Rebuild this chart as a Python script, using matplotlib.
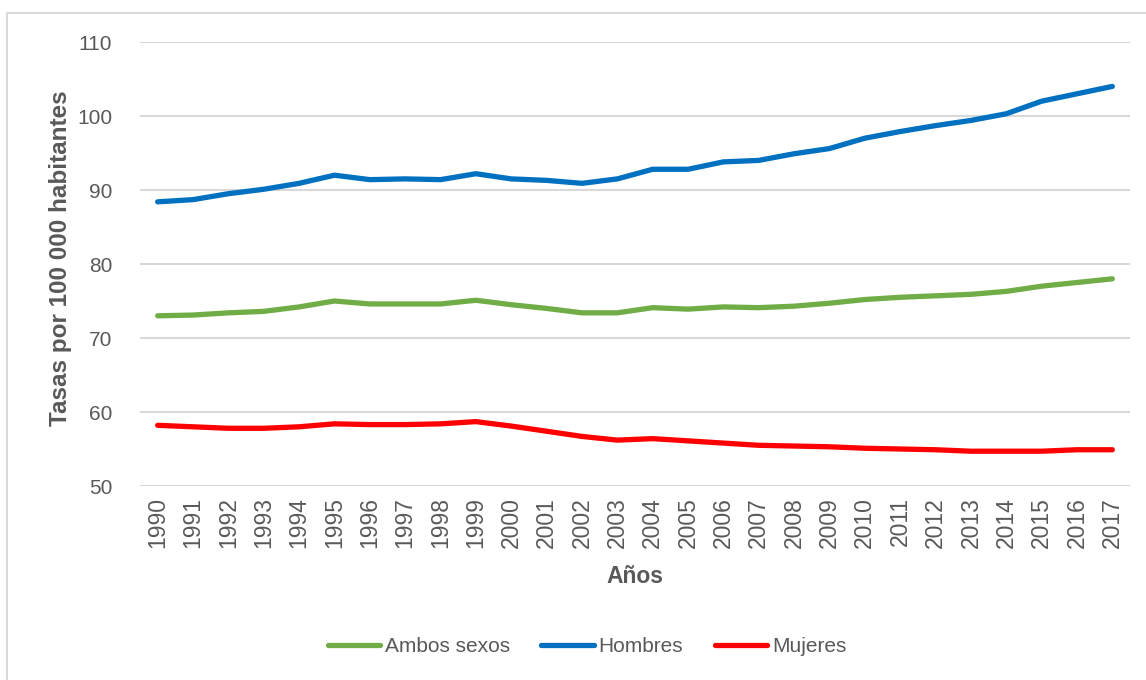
import matplotlib.pyplot as plt
from matplotlib.patches import Rectangle

# Tasas por 100 000 habitantes, 1990-2017
anios = list(range(1990, 2018))
ambos = [73.0, 73.1, 73.4, 73.6, 74.2, 75.0, 74.6, 74.6, 74.6, 75.1,
         74.5, 74.0, 73.4, 73.4, 74.1, 73.9, 74.2, 74.1, 74.3, 74.7,
         75.2, 75.5, 75.7, 75.9, 76.3, 77.0, 77.5, 78.0]
hombres = [88.4, 88.7, 89.5, 90.1, 90.9, 92.0, 91.4, 91.5, 91.4, 92.2,
           91.5, 91.3, 90.9, 91.5, 92.8, 92.8, 93.8, 94.0, 94.9, 95.6,
           97.0, 97.9, 98.7, 99.4, 100.3, 102.0, 103.0, 104.0]
mujeres = [58.2, 58.0, 57.8, 57.8, 58.0, 58.4, 58.3, 58.3, 58.4, 58.7,
           58.1, 57.4, 56.7, 56.2, 56.4, 56.1, 55.8, 55.5, 55.4, 55.3,
           55.1, 55.0, 54.9, 54.7, 54.7, 54.7, 54.9, 54.9]
yticks = [50, 60, 70, 80, 90, 100, 110]

plt.rcParams['font.family'] = ['Liberation Sans', 'DejaVu Sans']
gris = '#595959'

fig = plt.figure(figsize=(11.46, 6.8), dpi=100)
ax = fig.add_axes([140/1146, 1 - 486/680, 990/1146, 444/680])

# marco exterior del gráfico
fig.patches.append(Rectangle((7/1146, -0.1), 1.2, 1 - 13/680 + 0.1,
                             transform=fig.transFigure, fill=False,
                             edgecolor='#D9D9D9', linewidth=1.5))

lw = 3.8
ax.plot(anios, ambos, color='#70AD47', lw=lw, label='Ambos sexos', solid_capstyle='round')
ax.plot(anios, hombres, color='#0070C0', lw=lw, label='Hombres', solid_capstyle='round')
ax.plot(anios, mujeres, color='#FF0000', lw=lw, label='Mujeres', solid_capstyle='round')

ax.set_xlim(1989.5, 2017.5)
ax.set_ylim(50, 110)
ax.set_yticks(yticks)
ax.set_xticks(anios)
ax.set_xticklabels([str(a) for a in anios], rotation=90)
ax.grid(axis='y', color='#D9D9D9', linewidth=1.5)
ax.set_axisbelow(True)
for s in ax.spines.values():
    s.set_visible(False)
ax.tick_params(axis='both', length=0, labelsize=15, labelcolor=gris)
ax.tick_params(axis='x', labelsize=16.5, pad=8)
ax.tick_params(axis='y', pad=20)

ax.set_ylabel('Tasas por 100 000 habitantes', fontsize=17.5, fontweight='bold',
              color=gris)
ax.yaxis.set_label_coords(-0.069, 0.513)
ax.set_xlabel('Años', fontsize=16.5, fontweight='bold', color=gris, labelpad=12)

fig.legend(loc='center', bbox_to_anchor=(587/1146, 1 - 647/680), ncol=3,
           frameon=False, fontsize=15, handlelength=2.5, handletextpad=0.25,
           columnspacing=1.5, labelcolor=gris)

fig.savefig('out.png', dpi=100)
